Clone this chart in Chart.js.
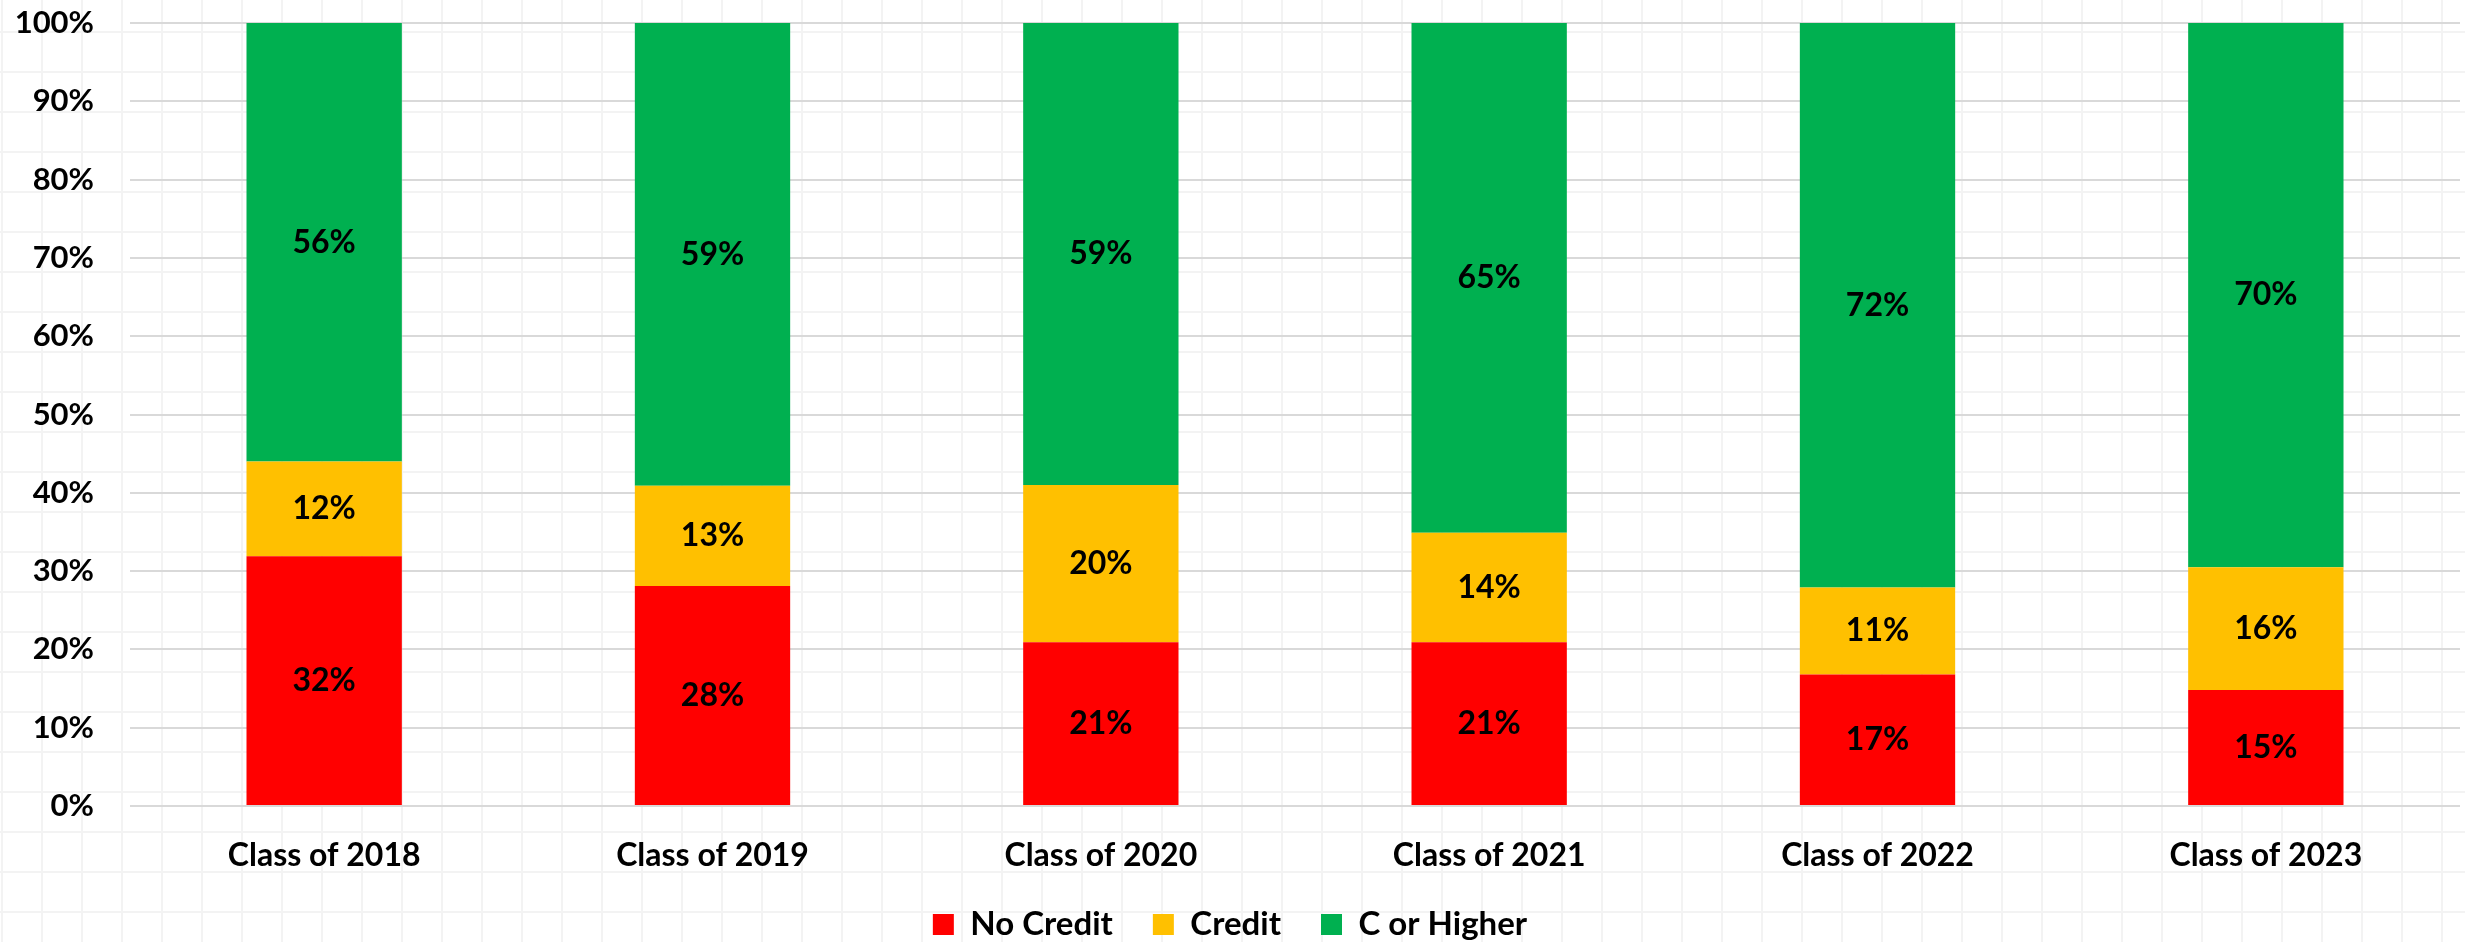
<!DOCTYPE html>
<html>
<head>
<meta charset="utf-8">
<script src="https://cdn.jsdelivr.net/npm/chart.js@4/dist/chart.umd.min.js"></script>
<style>
  html, body { margin: 0; padding: 0; background: #fff; }
  body {
    width: 2465px; height: 942px; overflow: hidden;
    background-image:
      linear-gradient(to right, #f3f3f3 2px, transparent 2px),
      linear-gradient(to bottom, #f3f3f3 2px, transparent 2px);
    background-size: 40px 40px;
    background-position: 41px 31px;
  }
  canvas { display: block; }
</style>
</head>
<body>
<canvas id="grades_chart" width="2465" height="942"></canvas>
<script>
(function() {

  Chart.defaults.font.family = 'Lato';
  Chart.defaults.font.weight = 'bold';
  Chart.defaults.color = '#000';

  const classes = ['Class of 2018', 'Class of 2019', 'Class of 2020', 'Class of 2021', 'Class of 2022', 'Class of 2023'];
  const noCredit = [31.9, 28.1, 20.9, 20.9, 16.8, 14.8];
  const credit = [12.1, 12.8, 20.1, 14.0, 11.1, 15.7];
  const cOrHigher = [56.0, 59.1, 59.0, 65.1, 72.1, 69.5];
  const yTicks = [0, 10, 20, 30, 40, 50, 60, 70, 80, 90, 100];

  // labels in the middle of each stacked piece
  const segmentLabels = {
    id: 'segmentLabels',
    afterDatasetsDraw(chart) {
      const ctx = chart.ctx;
      ctx.save();
      ctx.font = 'bold 32px Lato';
      ctx.fillStyle = '#000';
      ctx.textAlign = 'center';
      ctx.textBaseline = 'middle';
      chart.data.datasets.forEach((ds, i) => {
        chart.getDatasetMeta(i).data.forEach((bar, j) => {
          const v = ds.data[j];
          ctx.fillText(Math.round(v) + '%', bar.x, (bar.y + bar.base) / 2);
        });
      });
      ctx.restore();
    }
  };

  const data = {
    labels: classes,
    datasets: [
      { label: 'No Credit', data: noCredit, backgroundColor: '#FF0000' },
      { label: 'Credit', data: credit, backgroundColor: '#FFC000' },
      { label: 'C or Higher', data: cOrHigher, backgroundColor: '#00B050' }
    ]
  };

  const config = {
    type: 'bar',
    data: data,
    plugins: [segmentLabels],
    options: {
      responsive: false,
      animation: false,
      devicePixelRatio: 1,
      layout: { padding: { top: 0, right: 5, left: 0, bottom: -9 } },
      datasets: {
        bar: { categoryPercentage: 1.0, barPercentage: 0.4, borderWidth: 0 }
      },
      scales: {
        x: {
          stacked: true,
          grid: { display: false },
          border: { display: false },
          ticks: { font: { size: 32 }, padding: 22 },
          afterFit(scale) { scale.height = 62; }
        },
        y: {
          stacked: true,
          min: 0,
          max: 100,
          afterBuildTicks(scale) { scale.ticks = yTicks.map(v => ({ value: v })); },
          grid: { color: '#d9d9d9', lineWidth: 2, drawTicks: false },
          border: { display: false },
          ticks: { font: { size: 31 }, padding: 36, callback: v => v + '%' },
          afterFit(scale) {
            scale.width = 130;
            scale.paddingTop = 23;
          }
        }
      },
      plugins: {
        legend: {
          position: 'bottom',
          labels: { font: { size: 33 }, boxWidth: 21, boxHeight: 21, padding: 40 }
        },
        tooltip: { enabled: false }
      }
    }
  };

  new Chart(document.getElementById('grades_chart'), config);

})();
</script>
</body>
</html>
